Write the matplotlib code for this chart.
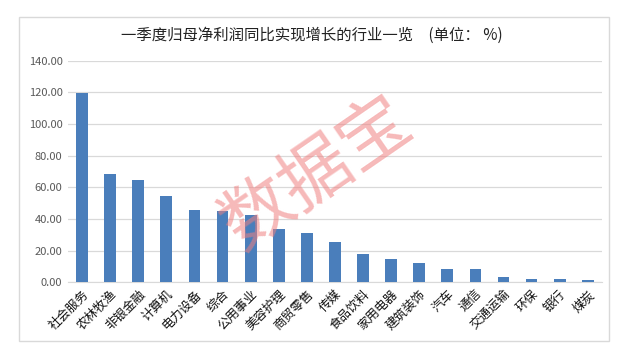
import matplotlib
matplotlib.use('Agg')
import matplotlib.pyplot as plt
from matplotlib.patches import Rectangle

plt.rcParams['font.family'] = ['Noto Sans CJK SC', 'DejaVu Sans']

industries = ['社会服务', '农林牧渔', '非银金融', '计算机', '电力设备', '综合', '公用事业',
              '美容护理', '商贸零售', '传媒', '食品饮料', '家用电器', '建筑装饰', '汽车',
              '通信', '交通运输', '环保', '银行', '煤炭']
growth = [119.4, 68.4, 64.6, 54.5, 45.7, 45.2, 42.5, 33.5, 31.3, 25.3, 18.1, 14.9,
          12.2, 8.4, 8.2, 3.2, 2.3, 2.1, 1.7]
yticks = [0, 20, 40, 60, 80, 100, 120, 140]

fig = plt.figure(figsize=(6.2, 3.52), dpi=100)
fig.patch.set_facecolor('white')

# outer frame like the excel chart area
fig.patches.append(Rectangle((0.031, 0.031), 0.951, 0.921, transform=fig.transFigure,
                             fill=False, edgecolor='#d9d9d9', linewidth=1))

ax = fig.add_axes([0.1097, 0.198, 0.861, 0.630])
x = range(len(industries))
ax.bar(x, growth, width=0.42, color='#4a7ebb', zorder=3)

ax.set_xlim(-0.5, len(industries) - 0.5)
ax.set_ylim(0, 140)
ax.set_yticks(yticks)
ax.set_yticklabels(['%.2f' % v for v in yticks], fontsize=8, color='#595959')
ax.set_xticks(list(x))
ax.set_xticklabels(industries, rotation=45, ha='right', rotation_mode='anchor',
                   fontsize=9, color='#111111')
ax.tick_params(axis='both', length=0, pad=4)
ax.grid(axis='y', color='#d9d9d9', linewidth=0.9, zorder=0)
for s in ['top', 'right', 'left']:
    ax.spines[s].set_visible(False)
ax.spines['bottom'].set_color('#d9d9d9')

fig.text(0.503, 0.9, '一季度归母净利润同比实现增长的行业一览\u3000(单位： %)', ha='center', va='center',
         fontsize=11.1, color='#222222')

# watermark
fig.text(0.51, 0.505, '数据宝', ha='center', va='center', rotation=34.6,
         fontsize=51, color='#f08080', alpha=0.55, zorder=10)

fig.savefig('out.png', dpi=100)
